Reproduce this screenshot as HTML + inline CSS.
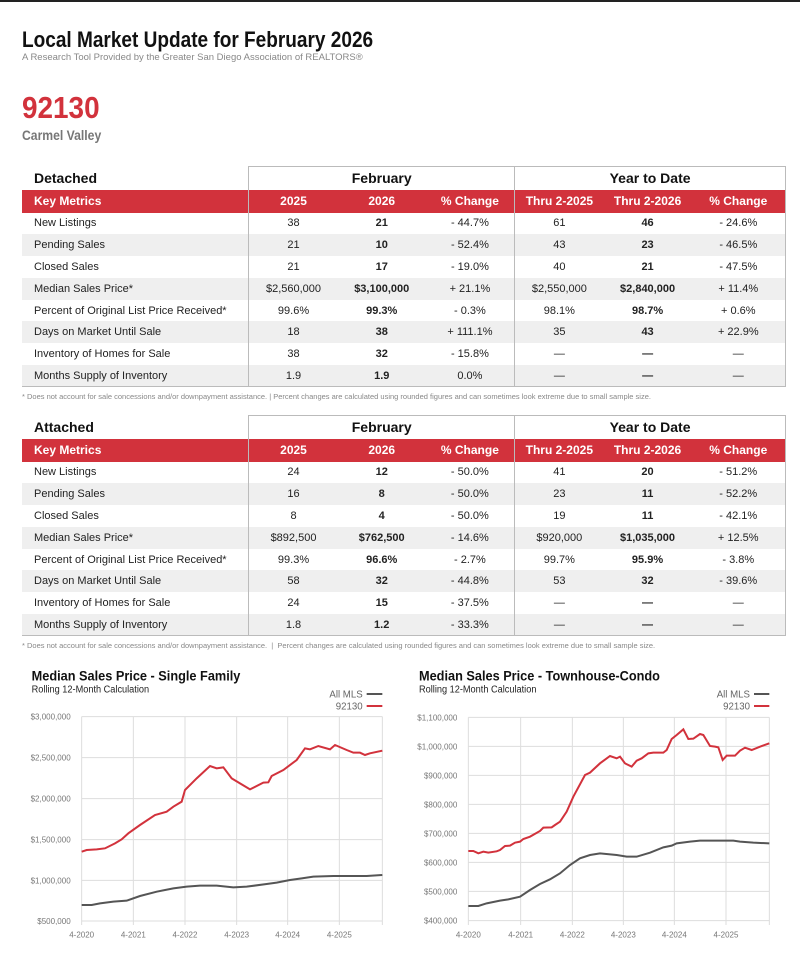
<!DOCTYPE html>
<html><head><meta charset="utf-8"><style>
*{margin:0;padding:0;box-sizing:border-box}
body{width:800px;height:953px;background:#fff;position:relative;font-family:"Liberation Sans",Arial,sans-serif;overflow:hidden}
.a{position:absolute;white-space:nowrap}
.cond{transform-origin:0 0;transform:scaleX(.87)}
table{position:absolute;left:22px;border-collapse:collapse;font-size:11px;color:#222}
td{height:21.8px;padding:0;text-align:center}
td.l{text-align:left;padding-left:12px;width:227px}
tr.g td{background:#efefef}
tr.h td{background:#d2323c;color:#fff;font-weight:bold;font-size:12px;height:23px}
tr.t td{height:23px;font-weight:bold;font-size:14px;color:#111}
.b{font-weight:bold}
.bl{border-left:1.5px solid #bbb}
.br{border-right:1.5px solid #bbb}
.fn{position:absolute;left:22px;font-size:7.5px;color:#888}
</style></head><body>
<div class="a" style="left:0;top:0;width:800px;height:2px;background:#222"></div>
<div class="a cond" style="left:22px;top:27px;font-size:22px;font-weight:bold;color:#111;transform:scaleX(.865)">Local Market Update for February 2026</div>
<div class="a" style="left:22px;top:52px;font-size:9.5px;color:#888">A Research Tool Provided by the Greater San Diego Association of REALTORS®</div>
<div class="a cond" style="left:22px;top:90px;font-size:31px;font-weight:bold;color:#d2323c;transform:scaleX(.9)">92130</div>
<div class="a cond" style="left:22px;top:127px;font-size:14px;font-weight:bold;color:#777">Carmel Valley</div>

<table style="top:166px;width:764px">
<tr class="t"><td class="l" style="text-align:left">Detached</td><td colspan="3" class="bl br" style="border-top:1.5px solid #bbb">February</td><td colspan="3" class="br" style="border-top:1.5px solid #bbb">Year to Date</td></tr>
<tr class="h"><td class="l">Key Metrics</td><td class="bl" style="width:89px">2025</td><td style="width:88px">2026</td><td class="br" style="width:89px">% Change</td><td style="width:89px">Thru 2-2025</td><td style="width:88px">Thru 2-2026</td><td class="br" style="width:94px">% Change</td></tr>
<tr><td class="l">New Listings</td><td class="bl">38</td><td class="b">21</td><td class="br">- 44.7%</td><td>61</td><td class="b">46</td><td class="br">- 24.6%</td></tr>
<tr class="g"><td class="l">Pending Sales</td><td class="bl">21</td><td class="b">10</td><td class="br">- 52.4%</td><td>43</td><td class="b">23</td><td class="br">- 46.5%</td></tr>
<tr><td class="l">Closed Sales</td><td class="bl">21</td><td class="b">17</td><td class="br">- 19.0%</td><td>40</td><td class="b">21</td><td class="br">- 47.5%</td></tr>
<tr class="g"><td class="l">Median Sales Price*</td><td class="bl">$2,560,000</td><td class="b">$3,100,000</td><td class="br">+ 21.1%</td><td>$2,550,000</td><td class="b">$2,840,000</td><td class="br">+ 11.4%</td></tr>
<tr><td class="l">Percent of Original List Price Received*</td><td class="bl">99.6%</td><td class="b">99.3%</td><td class="br">- 0.3%</td><td>98.1%</td><td class="b">98.7%</td><td class="br">+ 0.6%</td></tr>
<tr class="g"><td class="l">Days on Market Until Sale</td><td class="bl">18</td><td class="b">38</td><td class="br">+ 111.1%</td><td>35</td><td class="b">43</td><td class="br">+ 22.9%</td></tr>
<tr><td class="l">Inventory of Homes for Sale</td><td class="bl">38</td><td class="b">32</td><td class="br">- 15.8%</td><td>—</td><td class="b">—</td><td class="br">—</td></tr>
<tr class="g" style="border-bottom:1.5px solid #bbb"><td class="l">Months Supply of Inventory</td><td class="bl">1.9</td><td class="b">1.9</td><td class="br">0.0%</td><td>—</td><td class="b">—</td><td class="br">—</td></tr>
</table>
<div class="fn" style="top:392px">* Does not account for sale concessions and/or downpayment assistance. | Percent changes are calculated using rounded figures and can sometimes look extreme due to small sample size.</div>

<table style="top:415px;width:764px">
<tr class="t"><td class="l" style="text-align:left">Attached</td><td colspan="3" class="bl br" style="border-top:1.5px solid #bbb">February</td><td colspan="3" class="br" style="border-top:1.5px solid #bbb">Year to Date</td></tr>
<tr class="h"><td class="l">Key Metrics</td><td class="bl" style="width:89px">2025</td><td style="width:88px">2026</td><td class="br" style="width:89px">% Change</td><td style="width:89px">Thru 2-2025</td><td style="width:88px">Thru 2-2026</td><td class="br" style="width:94px">% Change</td></tr>
<tr><td class="l">New Listings</td><td class="bl">24</td><td class="b">12</td><td class="br">- 50.0%</td><td>41</td><td class="b">20</td><td class="br">- 51.2%</td></tr>
<tr class="g"><td class="l">Pending Sales</td><td class="bl">16</td><td class="b">8</td><td class="br">- 50.0%</td><td>23</td><td class="b">11</td><td class="br">- 52.2%</td></tr>
<tr><td class="l">Closed Sales</td><td class="bl">8</td><td class="b">4</td><td class="br">- 50.0%</td><td>19</td><td class="b">11</td><td class="br">- 42.1%</td></tr>
<tr class="g"><td class="l">Median Sales Price*</td><td class="bl">$892,500</td><td class="b">$762,500</td><td class="br">- 14.6%</td><td>$920,000</td><td class="b">$1,035,000</td><td class="br">+ 12.5%</td></tr>
<tr><td class="l">Percent of Original List Price Received*</td><td class="bl">99.3%</td><td class="b">96.6%</td><td class="br">- 2.7%</td><td>99.7%</td><td class="b">95.9%</td><td class="br">- 3.8%</td></tr>
<tr class="g"><td class="l">Days on Market Until Sale</td><td class="bl">58</td><td class="b">32</td><td class="br">- 44.8%</td><td>53</td><td class="b">32</td><td class="br">- 39.6%</td></tr>
<tr><td class="l">Inventory of Homes for Sale</td><td class="bl">24</td><td class="b">15</td><td class="br">- 37.5%</td><td>—</td><td class="b">—</td><td class="br">—</td></tr>
<tr class="g" style="border-bottom:1.5px solid #bbb"><td class="l">Months Supply of Inventory</td><td class="bl">1.8</td><td class="b">1.2</td><td class="br">- 33.3%</td><td>—</td><td class="b">—</td><td class="br">—</td></tr>
</table>
<div class="fn" style="top:641px">* Does not account for sale concessions and/or downpayment assistance. &nbsp;| &nbsp;Percent changes are calculated using rounded figures and can sometimes look extreme due to small sample size.</div>

<svg class="a" style="left:0;top:660px" width="400" height="293" viewBox="0 0 1200 879" font-family="Liberation Sans,Arial,sans-serif">
<text x="95" y="62" font-size="42" font-weight="bold" fill="#111" transform="translate(95 0) scale(.91 1) translate(-95 0)">Median Sales Price - Single Family</text>
<text x="95" y="97" font-size="30" fill="#222" transform="translate(95 0) scale(.92 1) translate(-95 0)">Rolling 12-Month Calculation</text>
<text x="1088" y="112" font-size="29" fill="#666" text-anchor="end">All MLS</text>
<line x1="1100" y1="102" x2="1147" y2="102" stroke="#555" stroke-width="6"/>
<text x="1088" y="148" font-size="29" fill="#666" text-anchor="end">92130</text>
<line x1="1100" y1="138" x2="1147" y2="138" stroke="#d2323c" stroke-width="6"/>
<g stroke="#ddd" stroke-width="3">
<line x1="245" y1="170" x2="1147" y2="170"/><line x1="245" y1="293" x2="1147" y2="293"/><line x1="245" y1="416" x2="1147" y2="416"/><line x1="245" y1="539" x2="1147" y2="539"/><line x1="245" y1="661" x2="1147" y2="661"/><line x1="245" y1="783" x2="1147" y2="783"/>
<line x1="245" y1="170" x2="245" y2="795"/><line x1="400" y1="170" x2="400" y2="795"/><line x1="555" y1="170" x2="555" y2="795"/><line x1="710" y1="170" x2="710" y2="795"/><line x1="863" y1="170" x2="863" y2="795"/><line x1="1018" y1="170" x2="1018" y2="795"/><line x1="1147" y1="170" x2="1147" y2="795"/>
</g>
<g font-size="24" fill="#777" text-anchor="end">
<text x="212" y="179">$3,000,000</text><text x="212" y="302">$2,500,000</text><text x="212" y="425">$2,000,000</text><text x="212" y="548">$1,500,000</text><text x="212" y="670">$1,000,000</text><text x="212" y="792">$500,000</text>
</g>
<g font-size="24" fill="#777" text-anchor="middle">
<text x="245" y="833">4-2020</text><text x="400" y="833">4-2021</text><text x="555" y="833">4-2022</text><text x="710" y="833">4-2023</text><text x="863" y="833">4-2024</text><text x="1018" y="833">4-2025</text>
</g>
<polyline fill="none" stroke="#555" stroke-width="6" points="245,735 275,735 300,730 340,725 380,722 420,708 470,695 520,685 560,680 600,677 650,677 700,682 740,680 800,672 830,668 870,660 905,655 940,650 1000,648 1100,648 1147,645"/>
<polyline fill="none" stroke="#d2323c" stroke-width="6" points="245,575 260,570 290,568 315,565 345,550 365,538 385,520 420,495 465,465 500,455 520,440 545,425 555,390 590,355 630,318 650,325 670,322 695,355 720,370 750,388 790,368 805,367 815,348 850,330 890,300 915,265 930,268 955,258 990,268 1005,255 1040,270 1060,278 1080,278 1095,285 1110,280 1147,272"/>
</svg>

<svg class="a" style="left:400px;top:660px" width="400" height="293" viewBox="0 0 1200 879" font-family="Liberation Sans,Arial,sans-serif">
<text x="57" y="62" font-size="42" font-weight="bold" fill="#111" transform="translate(57 0) scale(.91 1) translate(-57 0)">Median Sales Price - Townhouse-Condo</text>
<text x="57" y="97" font-size="30" fill="#222" transform="translate(57 0) scale(.92 1) translate(-57 0)">Rolling 12-Month Calculation</text>
<text x="1050" y="112" font-size="29" fill="#666" text-anchor="end">All MLS</text>
<line x1="1062" y1="102" x2="1108" y2="102" stroke="#555" stroke-width="6"/>
<text x="1050" y="148" font-size="29" fill="#666" text-anchor="end">92130</text>
<line x1="1062" y1="138" x2="1108" y2="138" stroke="#d2323c" stroke-width="6"/>
<g stroke="#ddd" stroke-width="3">
<line x1="205" y1="172" x2="1108" y2="172"/><line x1="205" y1="259" x2="1108" y2="259"/><line x1="205" y1="346" x2="1108" y2="346"/><line x1="205" y1="433" x2="1108" y2="433"/><line x1="205" y1="520" x2="1108" y2="520"/><line x1="205" y1="607" x2="1108" y2="607"/><line x1="205" y1="694" x2="1108" y2="694"/><line x1="205" y1="782" x2="1108" y2="782"/>
<line x1="205" y1="172" x2="205" y2="795"/><line x1="362" y1="172" x2="362" y2="795"/><line x1="517" y1="172" x2="517" y2="795"/><line x1="670" y1="172" x2="670" y2="795"/><line x1="823" y1="172" x2="823" y2="795"/><line x1="978" y1="172" x2="978" y2="795"/><line x1="1108" y1="172" x2="1108" y2="795"/>
</g>
<g font-size="24" fill="#777" text-anchor="end">
<text x="172" y="181">$1,100,000</text><text x="172" y="268">$1,000,000</text><text x="172" y="355">$900,000</text><text x="172" y="442">$800,000</text><text x="172" y="529">$700,000</text><text x="172" y="616">$600,000</text><text x="172" y="703">$500,000</text><text x="172" y="791">$400,000</text>
</g>
<g font-size="24" fill="#777" text-anchor="middle">
<text x="205" y="833">4-2020</text><text x="362" y="833">4-2021</text><text x="517" y="833">4-2022</text><text x="670" y="833">4-2023</text><text x="823" y="833">4-2024</text><text x="978" y="833">4-2025</text>
</g>
<polyline fill="none" stroke="#555" stroke-width="6" points="205,738 235,738 260,730 300,722 325,718 360,710 390,690 420,672 450,658 480,640 510,615 540,595 570,585 600,580 650,585 680,590 710,590 750,578 790,562 815,557 830,550 870,545 900,542 1000,542 1020,545 1060,548 1108,550"/>
<polyline fill="none" stroke="#d2323c" stroke-width="6" points="205,573 220,573 235,580 250,575 265,578 290,574 300,570 315,558 330,557 345,548 360,545 370,537 390,530 420,513 430,503 455,502 465,495 480,485 500,455 520,410 555,345 570,338 600,310 630,288 650,295 660,290 675,310 695,320 710,302 725,295 745,280 760,278 790,278 800,270 815,237 830,225 850,208 865,237 880,236 900,222 910,225 930,258 945,260 955,262 968,300 980,287 1005,287 1020,272 1035,263 1055,270 1080,260 1108,250"/>
</svg>
</body></html>
